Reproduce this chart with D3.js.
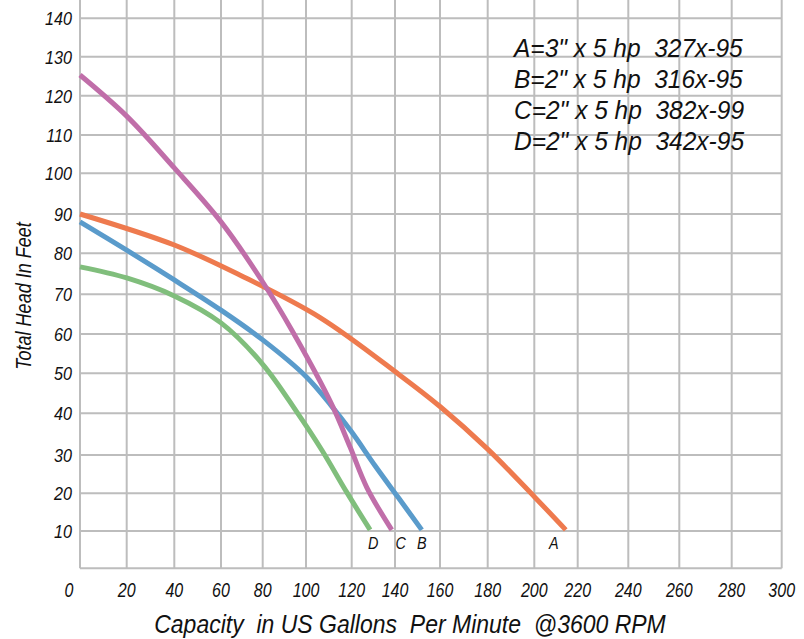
<!DOCTYPE html>
<html>
<head>
<meta charset="utf-8">
<script src="https://cdn.jsdelivr.net/npm/d3@7"></script>
<style>
  body { margin: 0; background: #fff; }
  svg text { font-family: "Liberation Sans", Arimo, sans-serif; font-style: italic; fill: #111; white-space: pre; }
</style>
</head>
<body>
<svg id="chart" width="804" height="639"></svg>
<script>
// tick values
var xTicks = [0, 20, 40, 60, 80, 100, 120, 140, 160, 180, 200, 220, 240, 260, 280, 300];
var yTicks = [0, 10, 20, 30, 40, 50, 60, 70, 80, 90, 100, 110, 120, 130, 140];

// curve A = 327x-95
var aGpm  = [0, 40, 69, 106, 142, 160, 180, 200, 214.5];
var aHead = [90, 82.1, 74.7, 64.2, 49.6, 41.7, 31.4, 19.1, 10.3];
// curve B = 316x-95
var bGpm  = [0, 20, 40, 60, 80, 100, 111.2, 120, 130.8, 141.3, 151.9];
var bHead = [88, 80.8, 73.5, 66, 58.5, 49.2, 41.8, 35.5, 27.2, 19, 10.3];
// curve C = 382x-99
var cGpm  = [0, 20, 40, 60, 80, 93.4, 111.2, 119.3, 127, 138.5];
var cHead = [125.3, 114.8, 101.4, 88, 73, 61, 42.3, 31.9, 21.5, 10.3];
// curve D = 342x-95
var dGpm  = [0, 20, 40, 60, 80, 95.8, 106.9, 117.8, 128.5];
var dHead = [76.7, 74, 69.6, 62.8, 52.3, 40.3, 31.2, 20.3, 10.3];

var legendLines = [
  'A=3" x 5 hp  327x-95',
  'B=2" x 5 hp  316x-95',
  'C=2" x 5 hp  382x-99',
  'D=2" x 5 hp  342x-95'
];
var xTitle = 'Capacity  in US Gallons  Per Minute  @3600 RPM';
var yTitle = 'Total Head In Feet';

var colors = {A: '#ee7a4e', B: '#5a9bcb', C: '#c06ea9', D: '#80be7c'};
var gridColor = '#bdbdbd';

// the printed grid is hand drawn and not evenly spaced, so both scales are piecewise
var xStops = [80, 126.7, 174.3, 221, 262.7, 306, 351.7, 395, 440, 487.7, 534.3, 577.7, 628.3, 679.3, 731.7, 781.7];
var yStops = [568.3, 531, 493.3, 455, 413.3, 373.3, 334, 294.3, 253.3, 214, 173.3, 135, 95.7, 56.7, 18.3];

var x = d3.scaleLinear().domain(xTicks).range(xStops);
var y = d3.scaleLinear().domain(yTicks).range(yStops);

var svg = d3.select('#chart');
var left = x(0), right = x(300), top = y(140), bottom = y(0);

// condensed look: squeeze text horizontally around its anchor
function squeeze(px, py, sx) {
  return 'translate(' + px + ',' + py + ') scale(' + sx + ',1)';
}

// grid
svg.append('g').selectAll('line')
    .data(xTicks)
    .join('line')
    .attr('x1', function(d) { return x(d); })
    .attr('x2', function(d) { return x(d); })
    .attr('y1', top)
    .attr('y2', bottom)
    .attr('stroke', gridColor)
    .attr('stroke-width', 2);

svg.append('g').selectAll('line')
    .data(yTicks)
    .join('line')
    .attr('x1', left)
    .attr('x2', right)
    .attr('y1', function(d) { return y(d); })
    .attr('y2', function(d) { return y(d); })
    .attr('stroke', gridColor)
    .attr('stroke-width', 2);

// legend box sits on top of the grid, upper right
var boxLeft = x(164);
svg.append('rect')
    .attr('x', boxLeft)
    .attr('y', top)
    .attr('width', right - boxLeft)
    .attr('height', y(100) - top)
    .attr('fill', '#fff')
    .attr('stroke', gridColor)
    .attr('stroke-width', 2);

svg.append('g').selectAll('text')
    .data(legendLines)
    .join('text')
    .attr('transform', function(d, i) { return squeeze(514, 57 + i * 31, 0.98); })
    .attr('font-size', 25)
    .text(function(d) { return d; });

// curves
var series = [
  {name: 'A', gpm: aGpm, head: aHead},
  {name: 'B', gpm: bGpm, head: bHead},
  {name: 'C', gpm: cGpm, head: cHead},
  {name: 'D', gpm: dGpm, head: dHead}
];

var line = d3.line()
    .x(function(d) { return x(d[0]); })
    .y(function(d) { return y(d[1]); })
    .curve(d3.curveCatmullRom.alpha(0.5));

svg.append('g').selectAll('path')
    .data(series)
    .join('path')
    .attr('d', function(s) { return line(d3.zip(s.gpm, s.head)); })
    .attr('fill', 'none')
    .attr('stroke', function(s) { return colors[s.name]; })
    .attr('stroke-width', 5);

// end letters under each curve
var labelShift = {A: -12, B: 0, C: 9, D: 3};
svg.append('g').selectAll('text')
    .data(series)
    .join('text')
    .attr('transform', function(s) {
      return squeeze(x(s.gpm[s.gpm.length - 1]) + labelShift[s.name], y(10) + 18, 0.9);
    })
    .attr('text-anchor', 'middle')
    .attr('font-size', 16)
    .text(function(s) { return s.name; });

// tick labels
svg.append('g').selectAll('text')
    .data(xTicks)
    .join('text')
    .attr('transform', function(d) { return squeeze(d === 0 ? x(d) - 11 : x(d), 597, 0.8); })
    .attr('text-anchor', 'middle')
    .attr('font-size', 20)
    .text(function(d) { return d; });

svg.append('g').selectAll('text')
    .data(yTicks.slice(1))
    .join('text')
    .attr('transform', function(d) { return squeeze(72, y(d) + 7, 0.85); })
    .attr('text-anchor', 'end')
    .attr('font-size', 19)
    .text(function(d) { return d; });

// axis titles
svg.append('text')
    .attr('transform', squeeze(410, 633, 0.92))
    .attr('text-anchor', 'middle')
    .attr('font-size', 25)
    .text(xTitle);

svg.append('text')
    .attr('transform', 'translate(31,296) rotate(-90) scale(0.82,1)')
    .attr('text-anchor', 'middle')
    .attr('font-size', 22)
    .text(yTitle);
</script>
</body>
</html>
